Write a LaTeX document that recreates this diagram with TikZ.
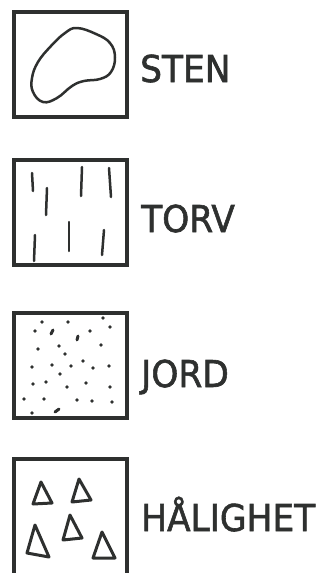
\documentclass[tikz,border=0pt]{standalone}
\usepackage{fontspec}
\setmainfont{DejaVu Sans}
\newfontfamily\legendfont[FakeBold=1.6]{DejaVu Sans}
\usetikzlibrary{positioning}
\usepackage{xcolor}
\definecolor{ink}{HTML}{2E302F}
\tikzset{
  legendbox/.style={draw=ink,line width=4pt,minimum width=113pt,minimum height=105pt,inner sep=0pt},
  boxline/.style={draw=ink,line width=4pt},
  legendtext/.style={anchor=base west,inner sep=0pt,text=ink,font=\legendfont\fontsize{37}{40}\selectfont},
  sketch/.style={draw=ink,line width=2.5pt,line cap=round,line join=round},
  grain/.style={fill=ink},
  crumb/.style={draw=ink,line width=3pt,line cap=round},
}
\newcommand{\legendlabel}[1]{\scalebox{0.93}[1]{#1}}

\begin{document}
\begin{tikzpicture}[x=1pt,y=-1pt]
  \useasboundingbox (0,0) rectangle (331,573);

  % Sten
  \node[legendbox] (sten) at (70.5,64.5) {};
  \draw[sketch] plot[smooth cycle,tension=0.7] coordinates
    {(77,28) (96,34) (110,43) (115,57) (111,72) (100,79) (84,81) (72,86)
     (57,98) (43,102) (33,92) (32,78) (38,62) (51,46) (65,33)};
  \node[legendtext] (stenlabel) at (140,82) {\legendlabel{STEN}};

  % Torv
  \node[legendbox] (torv) at (70.5,212.5) {};
  \foreach \xa/\ya/\xb/\yb in {32/173/33/191, 47/188/46/215, 82/167/81/196,
      109/168/111/197, 35/235/34/261, 69/222/69/251, 104/230/102/255}
    \draw[sketch] (\xa,\ya) -- (\xb,\yb);
  \node[legendtext] (torvlabel) at (141,232) {\legendlabel{TORV}};

  % Jord
  \node[legendbox] (jord) at (70.5,365.5) {};
  \foreach \px/\py in {42/322, 68/322, 103/318, 110/327, 35/331, 90/331,
      38/349, 59/346, 101/345, 65/354, 32/367, 52/365, 71/366, 83/361,
      93/368, 109/366, 60/374, 33/384, 46/382, 86/383, 67/387, 110/387,
      24/399, 44/399, 77/400, 92/401, 112/402, 32/413}
    \fill[grain] (\px,\py) circle (1.8pt);
  \draw[crumb] (51,334) -- (53,330);
  \draw[crumb] (77,340) -- (78,336);
  \draw[crumb] (55,412) -- (59,409);
  \node[legendtext] (jordlabel) at (141,387) {\legendlabel{JORD}};

  % Halighet
  \draw[boxline] (14,573) -- (14,459) -- (127,459) -- (127,573);
  \foreach \ax/\ay/\lx/\ly/\rx/\ry in {41/482/33/504/52/503, 79/479/72/502/91/500,
      70/515/63/540/82/538, 35/525/27/553/49/557, 102/532/93/558/115/558}
    \draw[sketch,line width=3pt] (\ax,\ay) -- (\lx,\ly) -- (\rx,\ry) -- cycle;
  \node[legendtext] (halighetlabel) at (141,531) {\legendlabel{HÅLIGHET}};
\end{tikzpicture}
\end{document}
